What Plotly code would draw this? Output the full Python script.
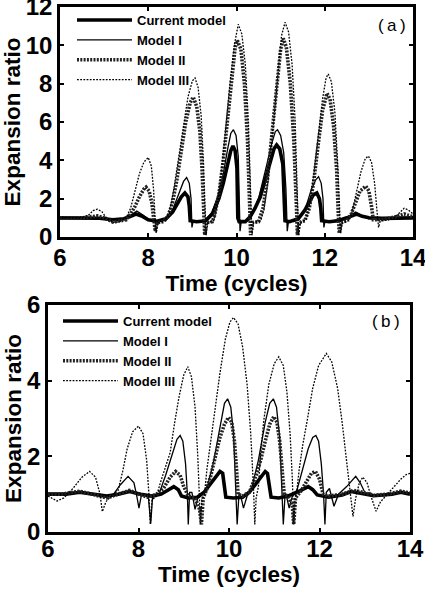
import plotly.graph_objects as go

# ---------------- Panel (a) data ----------------
a_cur_t = [6.0, 6.5, 6.9, 7.2, 7.45, 7.6, 7.72, 7.85, 8.0, 8.2, 8.4, 8.55, 8.65, 8.75, 8.83, 8.9, 8.93, 8.95,
           9.1, 9.3, 9.45, 9.6, 9.7, 9.8, 9.87, 9.92, 9.97, 10.01, 10.03, 10.06, 10.2, 10.31, 10.42, 10.54,
           10.65, 10.76, 10.85, 10.91, 10.98, 11.05, 11.08, 11.1, 11.2, 11.4, 11.55, 11.65, 11.74, 11.82,
           11.88, 11.91, 11.93, 12.1, 12.3, 12.5, 12.62, 12.72, 12.85, 13.0, 13.3, 13.6, 14.0]
a_cur_y = [1.0, 1.0, 0.98, 0.9, 0.95, 1.08, 1.2, 1.1, 0.9, 0.82, 0.95, 1.3, 1.7, 2.1, 2.3, 2.1, 1.6, 0.85,
           0.8, 0.85, 1.2, 2.0, 2.8, 3.9, 4.5, 4.75, 4.5, 3.6, 1.0, 0.8, 0.8, 1.06, 1.5, 2.1,
           3.0, 4.0, 4.6, 4.8, 4.6, 3.8, 2.5, 0.85, 0.8, 0.95, 1.4, 1.8, 2.2, 2.3,
           2.0, 1.5, 0.85, 0.8, 0.85, 1.0, 1.12, 1.2, 1.08, 1.0, 0.97, 1.0, 1.0]

a_m1_t = [6.0, 6.5, 6.9, 7.2, 7.45, 7.6, 7.74, 7.88, 8.05, 8.25, 8.4, 8.55, 8.7, 8.8, 8.87, 8.93, 8.97, 8.99,
          9.02, 9.15, 9.3, 9.45, 9.6, 9.7, 9.8, 9.87, 9.93, 9.99, 10.04, 10.07, 10.08, 10.11, 10.2, 10.3,
          10.5, 10.7, 10.8, 10.88, 10.93, 11.0, 11.07, 11.12, 11.15, 11.18, 11.3, 11.4, 11.55, 11.7, 11.8,
          11.86, 11.92, 11.96, 11.98, 12.01, 12.2, 12.5, 12.7, 12.85, 13.0, 13.4, 14.0]
a_m1_y = [1.0, 1.0, 0.98, 0.9, 0.95, 1.12, 1.35, 1.15, 0.85, 0.82, 0.95, 1.4, 2.3, 2.9, 3.1, 2.8, 2.0, 0.5,
          0.85, 0.8, 0.9, 1.3, 2.3, 3.3, 4.6, 5.4, 5.6, 5.3, 4.2, 2.0, 0.3, 0.85, 0.8, 0.9,
          2.0, 3.9, 4.9, 5.5, 5.6, 5.3, 4.4, 2.5, 0.3, 0.85, 0.8, 0.9, 1.4, 2.5, 3.0,
          3.15, 2.8, 2.0, 0.5, 0.85, 0.85, 1.0, 1.3, 1.1, 0.95, 1.0, 1.0]

a_m2_t = [6.0, 6.5, 6.85, 7.0, 7.2, 7.5, 7.6, 7.7, 7.8, 7.9, 7.95, 8.02, 8.08, 8.13, 8.16, 8.2, 8.35,
          8.45, 8.55, 8.65, 8.75, 8.85, 8.95, 9.02, 9.1, 9.17, 9.22, 9.26, 9.28, 9.32, 9.45, 9.5, 9.6,
          9.7, 9.8, 9.9, 9.97, 10.02, 10.1, 10.18, 10.25, 10.3, 10.32, 10.36, 10.5, 10.6, 10.7, 10.8,
          10.9, 11.0, 11.06, 11.13, 11.22, 11.3, 11.36, 11.38, 11.42, 11.55, 11.65, 11.75, 11.85, 11.95,
          12.05, 12.12, 12.2, 12.27, 12.31, 12.33, 12.37, 12.5, 12.6, 12.7, 12.8, 12.93, 13.0, 13.06,
          13.1, 13.3, 13.6, 13.8, 14.0]
a_m2_y = [1.0, 1.0, 1.1, 1.0, 0.78, 0.9, 1.2, 1.6, 2.1, 2.5, 2.6, 2.4, 1.8, 1.0, 0.3, 0.75, 0.8,
          1.1, 1.8, 3.0, 4.5, 6.0, 7.0, 7.3, 6.8, 5.5, 3.5, 1.0, 0.1, 0.75, 0.8, 1.1, 2.2,
          4.0, 6.2, 8.6, 9.9, 10.25, 9.8, 8.0, 5.0, 1.5, 0.1, 0.75, 0.8, 1.5, 3.0, 5.3,
          7.8, 9.8, 10.36, 9.9, 8.0, 5.0, 1.5, 0.1, 0.75, 0.85, 1.5, 2.9, 4.8, 6.6,
          7.5, 7.2, 5.8, 3.5, 1.0, 0.2, 0.75, 0.85, 1.2, 1.8, 2.4, 2.65, 2.4, 1.6,
          0.9, 0.9, 1.05, 1.2, 1.05]

a_m3_t = [6.0, 6.5, 6.65, 6.75, 6.85, 6.95, 7.05, 7.2, 7.35, 7.5, 7.6, 7.7, 7.8, 7.9, 8.0, 8.07, 8.12,
          8.16, 8.18, 8.22, 8.38, 8.48, 8.58, 8.7, 8.8, 8.9, 9.0, 9.06, 9.13, 9.2, 9.25, 9.29, 9.31,
          9.35, 9.48, 9.55, 9.65, 9.75, 9.85, 9.95, 10.04, 10.12, 10.2, 10.27, 10.32, 10.35, 10.39,
          10.55, 10.62, 10.72, 10.82, 10.92, 11.02, 11.1, 11.18, 11.26, 11.33, 11.38, 11.41, 11.45,
          11.57, 11.65, 11.75, 11.85, 11.95, 12.03, 12.08, 12.15, 12.23, 12.3, 12.34, 12.36, 12.4,
          12.55, 12.62, 12.72, 12.82, 12.92, 12.99, 13.06, 13.13, 13.19, 13.22, 13.26, 13.45, 13.6,
          13.7, 13.8, 13.9, 14.0]
a_m3_y = [1.0, 1.02, 1.15, 1.38, 1.45, 1.32, 1.0, 0.76, 0.8, 1.0, 1.5, 2.4, 3.3, 3.9, 4.15, 3.7, 2.5,
          0.8, 0.2, 0.75, 0.85, 1.3, 2.5, 4.3, 5.9, 7.3, 8.15, 8.3, 7.8, 6.3, 4.0, 1.0, 0.1,
          0.75, 0.85, 1.5, 3.2, 5.5, 8.0, 10.0, 11.1, 10.6, 9.0, 6.0, 2.0, 0.1, 0.75,
          0.85, 1.4, 3.0, 5.5, 8.2, 10.5, 11.2, 10.7, 9.0, 6.0, 2.0, 0.1, 0.75,
          0.9, 1.6, 3.2, 5.2, 7.2, 8.3, 8.5, 8.1, 6.5, 3.5, 1.0, 0.2, 0.75,
          0.85, 1.3, 2.3, 3.4, 4.1, 4.22, 3.9, 2.8, 1.2, 0.5, 0.85, 0.9, 1.05,
          1.3, 1.5, 1.4, 1.2]

# ---------------- Panel (b) data ----------------
b_cur_t = [6.0, 6.4, 6.7, 7.0, 7.3, 7.55, 7.8, 8.05, 8.3, 8.5, 8.65, 8.78, 8.88, 8.95, 9.1, 9.3, 9.45,
           9.58, 9.7, 9.8, 9.86, 9.9, 9.93, 10.1, 10.3, 10.45, 10.58, 10.7, 10.8, 10.85, 10.9, 10.93,
           11.1, 11.3, 11.5, 11.65, 11.75, 11.85, 11.95, 12.2, 12.5, 12.7, 12.9, 13.2, 13.6, 13.8, 14.0]
b_cur_y = [1.0, 1.0, 1.05, 1.0, 0.95, 1.0, 1.07, 1.0, 0.95, 1.0, 1.1, 1.2, 1.12, 0.95, 0.9, 0.92, 1.05,
           1.25, 1.45, 1.6, 1.55, 1.2, 0.92, 0.9, 0.92, 1.05, 1.25, 1.45, 1.6, 1.55, 1.2, 0.92,
           0.9, 0.95, 1.05, 1.15, 1.2, 1.12, 0.98, 0.92, 0.98, 1.07, 1.02, 0.96, 1.0, 1.05, 1.0]

b_m1_t = [6.0, 6.4, 6.7, 7.0, 7.25, 7.45, 7.6, 7.77, 7.9, 7.97, 8.01, 8.06, 8.15, 8.22, 8.27, 8.31, 8.45,
          8.6, 8.75, 8.85, 8.92, 8.98, 9.04, 9.08, 9.1, 9.13, 9.18, 9.25, 9.32, 9.5, 9.65, 9.8, 9.9,
          9.97, 10.04, 10.1, 10.15, 10.18, 10.22, 10.26, 10.32, 10.4, 10.5, 10.65, 10.8, 10.9, 10.98,
          11.05, 11.12, 11.17, 11.2, 11.24, 11.27, 11.33, 11.4, 11.5, 11.62, 11.75, 11.85, 11.92, 11.98,
          12.04, 12.09, 12.12, 12.15, 12.22, 12.32, 12.42, 12.6, 12.8, 12.9, 13.0, 13.2, 13.5, 13.8, 14.0]
b_m1_y = [1.0, 1.02, 1.08, 1.0, 0.92, 1.0, 1.25, 1.47, 1.3, 0.9, 0.63, 0.95, 0.98, 0.9, 0.22, 0.92, 1.0,
          1.5, 2.1, 2.45, 2.55, 2.4, 1.8, 1.0, 0.2, 1.05, 1.05, 0.6, 0.95, 1.1, 1.8, 2.8, 3.4,
          3.52, 3.3, 2.6, 1.3, 0.2, 1.0, 0.95, 0.63, 0.95, 1.15, 1.9, 2.9, 3.4, 3.52,
          3.3, 2.5, 1.3, 0.2, 1.0, 0.95, 0.63, 0.95, 1.1, 1.6, 2.2, 2.5, 2.55, 2.4,
          1.8, 1.0, 0.2, 1.05, 1.15, 0.68, 1.0, 1.2, 1.47, 1.3, 1.05, 0.95, 0.97, 1.08, 1.0]

b_m2_t = [6.0, 6.3, 6.7, 7.0, 7.3, 7.55, 7.8, 8.0, 8.2, 8.4, 8.55, 8.7, 8.82, 8.92, 9.0, 9.1, 9.25,
          9.35, 9.39, 9.43, 9.5, 9.6, 9.7, 9.8, 9.9, 9.99, 10.06, 10.12, 10.17, 10.2, 10.3, 10.45,
          10.6, 10.7, 10.8, 10.9, 10.99, 11.06, 11.12, 11.18, 11.22, 11.3, 11.4, 11.43, 11.47, 11.6,
          11.72, 11.82, 11.91, 12.0, 12.08, 12.2, 12.5, 12.75, 12.95, 13.2, 13.5, 13.8, 14.0]
b_m2_y = [1.0, 1.0, 1.08, 1.0, 0.9, 1.0, 1.1, 1.0, 0.92, 1.0, 1.15, 1.45, 1.6, 1.5, 1.2, 0.95, 0.9,
          0.6, 0.2, 0.9, 1.1, 1.5, 2.0, 2.5, 2.85, 3.03, 2.9, 2.4, 1.6, 1.0, 0.95, 1.05,
          1.5, 1.9, 2.4, 2.85, 3.05, 2.9, 2.4, 1.6, 1.0, 0.95, 0.7, 0.2, 0.9, 1.1,
          1.35, 1.55, 1.6, 1.4, 1.0, 0.95, 1.0, 1.1, 1.05, 0.97, 1.0, 1.08, 1.03]

b_m3_t = [6.0, 6.1, 6.2, 6.35, 6.55, 6.75, 6.92, 7.05, 7.15, 7.2, 7.28, 7.4, 7.55, 7.65, 7.75, 7.87,
          8.0, 8.1, 8.18, 8.23, 8.26, 8.3, 8.4, 8.48, 8.6, 8.7, 8.8, 8.9, 9.0, 9.09, 9.17, 9.25,
          9.31, 9.35, 9.37, 9.4, 9.46, 9.51, 9.58, 9.66, 9.8, 9.92, 10.02, 10.1, 10.2, 10.3, 10.4,
          10.48, 10.54, 10.57, 10.6, 10.65, 10.7, 10.77, 10.88, 11.0, 11.1, 11.2, 11.28, 11.35, 11.4,
          11.43, 11.46, 11.5, 11.55, 11.63, 11.73, 11.85, 11.98, 12.15, 12.27, 12.4, 12.5, 12.6,
          12.68, 12.74, 12.8, 12.88, 12.96, 13.05, 13.15, 13.25, 13.35, 13.5, 13.65, 13.8, 13.92, 14.0]
b_m3_y = [0.95, 0.88, 0.82, 0.9, 1.15, 1.45, 1.6, 1.45, 1.0, 0.54, 0.8, 0.95, 1.1, 1.6, 2.2, 2.65,
          2.8, 2.6, 1.9, 1.0, 0.2, 0.85, 0.95, 1.29, 1.7, 2.1, 2.9, 3.6, 4.15, 4.37, 4.1, 3.3,
          2.0, 0.9, 0.2, 0.85, 1.0, 1.64, 2.3, 2.96, 4.2, 5.1, 5.55, 5.67, 5.5, 4.9, 3.9,
          2.6, 1.2, 0.2, 0.9, 1.2, 2.1, 2.96, 3.9, 4.45, 4.63, 4.4, 3.7, 2.6, 1.4,
          0.2, 0.9, 1.1, 1.64, 2.3, 2.96, 3.8, 4.4, 4.72, 4.5, 3.8, 2.9, 1.9,
          1.0, 0.41, 0.9, 1.3, 1.45, 1.3, 0.9, 0.55, 0.8, 1.0, 1.2, 1.4, 1.52, 1.55]

series_names = ["Current model", "Model I", "Model II", "Model III"]
x_ticks = [6, 8, 10, 12, 14]
a_y_ticks = [0, 2, 4, 6, 8, 10, 12]
b_y_ticks = [0, 2, 4, 6]

styles = [
    dict(color="black", width=3.6, dash="solid"),
    dict(color="black", width=1.3, dash="solid"),
    dict(color="#222222", width=3.6, dash="2px,1.3px"),
    dict(color="black", width=1.3, dash="1.8px,1.4px"),
]

FONT = "Liberation Sans, Arial, Helvetica, sans-serif"

fig = go.Figure()
panel_a = [(a_cur_t, a_cur_y), (a_m1_t, a_m1_y), (a_m2_t, a_m2_y), (a_m3_t, a_m3_y)]
panel_b = [(b_cur_t, b_cur_y), (b_m1_t, b_m1_y), (b_m2_t, b_m2_y), (b_m3_t, b_m3_y)]

for (t, y), name, st in zip(panel_a, series_names, styles):
    fig.add_trace(go.Scatter(x=t, y=y, mode="lines", name=name, line=st,
                             xaxis="x", yaxis="y", legend="legend"))
for (t, y), name, st in zip(panel_b, series_names, styles):
    fig.add_trace(go.Scatter(x=t, y=y, mode="lines", name=name, line=st,
                             xaxis="x2", yaxis="y2", legend="legend2"))

W, H = 425, 590
def px_x(p): return p / W
def px_y(p): return 1 - p / H

axis_common = dict(showgrid=False, zeroline=False, showline=True, linecolor="black", linewidth=2.5,
                   mirror="ticks", ticks="inside", ticklen=4, tickwidth=1.5, tickcolor="black",
                   automargin=False, ticklabeloverflow="allow",
                   tickfont=dict(family=FONT, size=24, color="black", weight="bold"))
title_font = dict(family=FONT, size=22.5, color="black", weight="bold")

legend_common = dict(font=dict(family=FONT, size=13, color="black", weight="bold"),
                     bgcolor="rgba(0,0,0,0)", borderwidth=0, itemwidth=55,
                     xanchor="left", yanchor="top", tracegroupgap=0, itemclick=False)

fig.update_layout(
    width=W, height=H, margin=dict(l=0, r=0, t=0, b=0, autoexpand=False),
    paper_bgcolor="white", plot_bgcolor="white",
    xaxis=dict(domain=[px_x(60), px_x(413)], range=[6, 14], tickvals=x_ticks, anchor="y",
               ticklabelstandoff=-3,
               title=dict(text="Time (cycles)", font=title_font, standoff=0), **axis_common),
    yaxis=dict(domain=[px_y(237), px_y(7)], range=[0, 12], tickvals=a_y_ticks, anchor="x",
               title=dict(text="Expansion ratio", font=title_font, standoff=0), **axis_common),
    xaxis2=dict(domain=[px_x(48), px_x(410)], range=[6, 14], tickvals=x_ticks, anchor="y2",
                ticklabelstandoff=-7,
                title=dict(text="Time (cycles)", font=title_font, standoff=0), **axis_common),
    yaxis2=dict(domain=[px_y(532), px_y(305)], range=[0, 6], tickvals=b_y_ticks, anchor="x2",
                title=dict(text="Expansion ratio", font=title_font, standoff=0), **axis_common),
    legend=dict(x=px_x(72), y=px_y(5), **legend_common),
    legend2=dict(x=px_x(58), y=px_y(306), **legend_common),
    annotations=[
        dict(text="(\u2009a\u2009)", x=px_x(392), y=px_y(25), xref="paper", yref="paper",
             xanchor="center", yanchor="middle",
             showarrow=False, font=dict(family=FONT, size=17, color="black")),
        dict(text="(\u2009b\u2009)", x=px_x(386), y=px_y(322), xref="paper", yref="paper",
             xanchor="center", yanchor="middle",
             showarrow=False, font=dict(family=FONT, size=17, color="black")),
    ],
)

fig.write_html("out.html", config={"displayModeBar": False},
               post_script="document.body.style.margin='0px';document.body.style.overflow='hidden';")
